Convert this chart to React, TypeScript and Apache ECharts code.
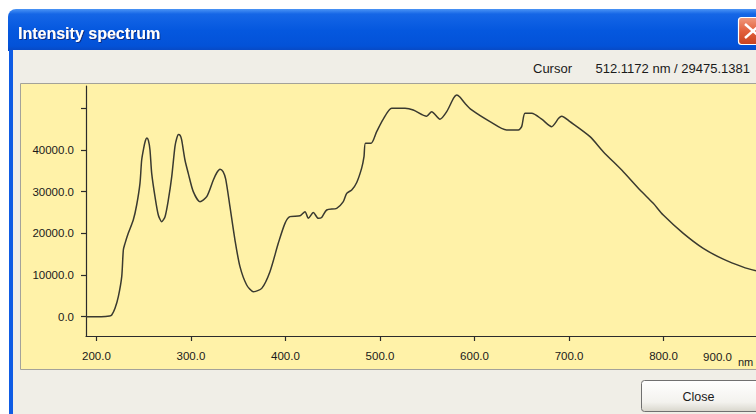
import React, { useEffect, useRef } from "react";
import * as echarts from "echarts";

const wavelengths = [189, 205, 214, 216.2, 219.7, 223.2, 226.8, 228.5, 230.3, 233.7, 239.0, 242.6, 246.1, 247.9, 250.0, 251.8, 253.4, 255.0, 256.7, 258.5, 262.0, 265.5, 269.1, 272.6, 276.1, 279.7, 283.1, 285.0, 286.8, 288.6, 290.2, 293.7, 297.2, 302.5, 309.6, 316.7, 323.7, 327.5, 330.8, 334.0, 336.8, 341.3, 346.6, 351.9, 359.0, 366.0, 374.9, 383.6, 392.4, 399.5, 404.8, 415.4, 420.7, 424.2, 429.5, 434.7, 438.3, 443.6, 454.2, 461.2, 464.8, 470.1, 475.4, 480.7, 483.1, 484.7, 490.5, 496.5, 503.5, 512.4, 526.5, 535.2, 549.4, 554.7, 563.5, 570.6, 578.0, 581.2, 584.5, 589.9, 597.0, 616.4, 634.0, 646.3, 649.9, 653.4, 660.5, 671.1, 681.6, 689.0, 692.2, 701.0, 722.2, 736.2, 757.4, 775.1, 789.1, 799.7, 820.9, 842.0, 863.2, 884.3, 897.8];
const intensities = [0, 0, 150, 400, 2000, 4800, 9600, 16000, 17600, 20000, 23200, 26800, 32000, 37600, 40400, 42200, 42900, 42300, 40000, 34400, 28800, 24400, 22800, 24000, 28000, 33600, 40800, 42800, 43700, 43500, 42400, 37600, 34400, 30000, 27600, 28800, 32800, 34600, 35400, 34800, 33000, 26400, 18400, 12000, 7600, 6000, 6800, 10800, 17600, 22400, 24000, 24200, 25200, 23600, 25000, 23600, 23800, 25600, 26000, 27600, 29600, 30400, 32200, 35700, 38400, 41600, 41600, 44400, 47400, 50000, 50000, 49600, 48100, 49200, 47400, 49200, 52500, 53200, 52700, 51200, 49600, 46800, 44800, 44800, 45600, 48800, 48800, 47400, 45600, 47600, 48100, 46800, 43200, 39600, 34800, 30400, 27200, 24400, 20000, 16400, 13800, 11900, 11000];

const xTickValues = [200, 300, 400, 500, 600, 700, 800, 900];
const yTickValues = [0, 10000, 20000, 30000, 40000, 50000];
const yLabelValues = [0, 10000, 20000, 30000, 40000];

const xMin = 189;
const xMax = 897.8;
const yMin = -4631;
const yMax = 55350;

const titleText = "Intensity spectrum";
const cursorLabel = "Cursor";
const cursorValue = "512.1172 nm / 29475.1381";
const unitText = "nm";
const closeText = "Close";

const FONT = "'Liberation Sans', Arial, sans-serif";

export default function App() {
  const ref = useRef<HTMLDivElement>(null);
  useEffect(() => {
    if (!ref.current) return;
    const chart = echarts.init(ref.current, undefined, { renderer: "svg" });
    const data = wavelengths.map((w, i) => [w, intensities[i]]);
    const inRange = xTickValues.filter((v) => v >= xMin && v <= xMax);
    const lastLabel = xTickValues[xTickValues.length - 1];
    const textColor = "#1a1a1a";
    const axisColor = "#2b2b2b";

    chart.setOption({
      animation: false,
      backgroundColor: "#ffffff",
      grid: { left: 86, top: 86, right: 0, bottom: 78, containLabel: false },
      graphic: {
        elements: [
          {
            type: "rect", z: 0, silent: true,
            shape: { x: 8, y: 9, width: 760, height: 42, r: [8, 8, 0, 0] },
            style: {
              fill: new echarts.graphic.LinearGradient(0, 0, 0, 1, [
                { offset: 0, color: "#4A94F5" },
                { offset: 0.12, color: "#1566E6" },
                { offset: 0.5, color: "#0558DF" },
                { offset: 0.88, color: "#0352D8" },
                { offset: 1, color: "#0848C2" },
              ]),
            },
          },
          {
            type: "rect", z: 0, silent: true,
            shape: { x: 9, y: 50, width: 4, height: 370 },
            style: { fill: "#0F5CE4" },
          },
          {
            type: "rect", z: 0, silent: true,
            shape: { x: 13, y: 50, width: 750, height: 370 },
            style: { fill: "#F0EEE7" },
          },
          {
            type: "rect", z: 0, silent: true,
            shape: { x: 20.5, y: 83.5, width: 745, height: 286 },
            style: { fill: "#FFF2A8", stroke: "#A3A29A", lineWidth: 1 },
          },
          {
            type: "text", z: 1, silent: true,
            x: 18, y: 33,
            style: {
              text: titleText, fill: "#ffffff", font: `bold 16px ${FONT}`,
              verticalAlign: "middle",
              textShadowColor: "#0a2a80", textShadowOffsetX: 1, textShadowOffsetY: 1, textShadowBlur: 1,
            },
          },
          {
            type: "rect", z: 1, silent: true,
            shape: { x: 738.5, y: 17.5, width: 30, height: 27, r: 3 },
            style: {
              fill: new echarts.graphic.LinearGradient(0, 0, 0, 1, [
                { offset: 0, color: "#F09A7E" },
                { offset: 0.5, color: "#E2603C" },
                { offset: 1, color: "#C9421F" },
              ]),
              stroke: "#ffffff", lineWidth: 1.2,
            },
          },
          {
            type: "line", z: 2, silent: true,
            shape: { x1: 745, y1: 24, x2: 761, y2: 38 },
            style: { stroke: "#ffffff", lineWidth: 2.5 },
          },
          {
            type: "line", z: 2, silent: true,
            shape: { x1: 761, y1: 24, x2: 745, y2: 38 },
            style: { stroke: "#ffffff", lineWidth: 2.5 },
          },
          {
            type: "text", z: 1, silent: true,
            x: 533, y: 68,
            style: { text: cursorLabel, fill: textColor, font: `13px ${FONT}`, verticalAlign: "middle" },
          },
          {
            type: "text", z: 1, silent: true,
            x: 750, y: 68,
            style: { text: cursorValue, fill: textColor, font: `13px ${FONT}`, align: "right", verticalAlign: "middle" },
          },
          {
            type: "text", z: 1, silent: true,
            x: 717.5, y: 356.5,
            style: { text: lastLabel.toFixed(1), fill: textColor, font: `11.5px ${FONT}`, align: "center", verticalAlign: "middle" },
          },
          {
            type: "text", z: 1, silent: true,
            x: 738, y: 362,
            style: { text: unitText, fill: textColor, font: `11px ${FONT}`, verticalAlign: "middle" },
          },
          {
            type: "rect", z: 1, silent: true,
            shape: { x: 641.5, y: 380.5, width: 130, height: 31, r: 3 },
            style: {
              fill: new echarts.graphic.LinearGradient(0, 0, 0, 1, [
                { offset: 0, color: "#FFFFFF" },
                { offset: 0.7, color: "#F3F2EE" },
                { offset: 1, color: "#D8D6CC" },
              ]),
              stroke: "#707070", lineWidth: 1,
            },
          },
          {
            type: "text", z: 2, silent: true,
            x: 698.5, y: 397,
            style: { text: closeText, fill: textColor, font: `12.5px ${FONT}`, align: "center", verticalAlign: "middle" },
          },
        ],
      },
      xAxis: {
        type: "value",
        min: xMin,
        max: xMax,
        z: 5,
        axisLine: { show: true, onZero: false, lineStyle: { color: axisColor, width: 1.2 } },
        axisTick: { show: true, customValues: inRange, length: 5, inside: false, lineStyle: { color: axisColor, width: 1.2 } },
        axisLabel: {
          customValues: inRange,
          formatter: (v: number) => v.toFixed(1),
          margin: 14,
          color: textColor,
          fontFamily: FONT,
          fontSize: 11.5,
        },
        splitLine: { show: false },
      },
      yAxis: {
        type: "value",
        min: yMin,
        max: yMax,
        z: 5,
        axisLine: { show: true, onZero: false, lineStyle: { color: axisColor, width: 1.2 } },
        axisTick: { show: true, customValues: yTickValues, length: 5, inside: false, lineStyle: { color: axisColor, width: 1.2 } },
        axisLabel: {
          customValues: yLabelValues,
          formatter: (v: number) => v.toFixed(1),
          margin: 12,
          color: textColor,
          fontFamily: FONT,
          fontSize: 11.5,
        },
        splitLine: { show: false },
      },
      series: [
        {
          type: "line",
          data,
          z: 6,
          showSymbol: false,
          symbol: "none",
          smooth: 0.25,
          clip: true,
          lineStyle: { color: "#3a3a30", width: 1.5 },
        },
      ],
    });
    return () => chart.dispose();
  }, []);
  return (
    <div
      ref={ref}
      style={{ position: "fixed", left: 0, top: 0, width: 756, height: 414 }}
    />
  );
}
